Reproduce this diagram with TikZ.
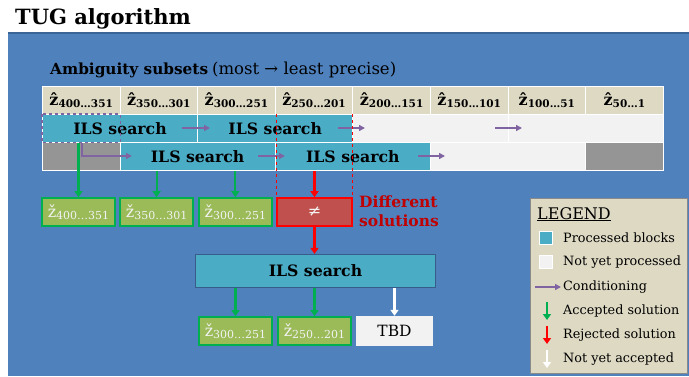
\documentclass[tikz,border=0pt]{standalone}
\usepackage{fontspec}
\setmainfont{DejaVu Serif}
\usetikzlibrary{arrows.meta}

\definecolor{panelblue}{HTML}{4F81BD}
\definecolor{paneledge}{HTML}{3B6497}
\definecolor{beige}{HTML}{DDD9C3}
\definecolor{offwhite}{HTML}{F2F2F2}
\definecolor{teal}{HTML}{4BACC6}
\definecolor{greycell}{HTML}{959595}
\definecolor{condpurple}{HTML}{8064A2}
\definecolor{accgreen}{HTML}{00B050}
\definecolor{solgreen}{HTML}{9BBB59}
\definecolor{rejred}{HTML}{FF0000}
\definecolor{boxred}{HTML}{C0504D}
\definecolor{textred}{HTML}{C00000}
\definecolor{ilsedge}{HTML}{385D8A}
\definecolor{legedge}{HTML}{8A8A8A}

\newcommand\zhat[2]{{\fontsize{16}{16}\selectfont\bfseries\^{z}}\raisebox{-0.3ex}{\fontsize{10.5}{10}\selectfont\bfseries #1…#2}}
\newcommand\zcheck[2]{{\fontsize{16}{16}\selectfont ž}\raisebox{-0.4ex}{\fontsize{11}{11}\selectfont #1…#2}}

\tikzset{
  cell/.style={draw=white, line width=0.8pt, minimum height=28pt, inner sep=0pt, anchor=north west},
  hdr/.style={cell, fill=beige, minimum width=77.6pt},
  done/.style={cell, fill=teal, font=\fontsize{15.7}{16}\selectfont\bfseries},
  todo/.style={cell, fill=offwhite},
  skip/.style={cell, fill=greycell},
  sol/.style={draw=accgreen, fill=solgreen, line width=1.6pt, minimum width=73pt, minimum height=28pt, inner sep=0pt, text=offwhite},
  acc/.style={draw=accgreen, line width=2.2pt, -{Triangle[width=8pt,length=6pt]}},
  rej/.style={draw=rejred, line width=2.2pt, -{Triangle[width=8pt,length=6pt]}},
  wait/.style={draw=white, line width=2.2pt, -{Triangle[width=8pt,length=6pt]}},
  cond/.style={draw=condpurple, line width=1.4pt, -{Triangle[width=6pt,length=6pt]}},
  legtext/.style={anchor=west, inner sep=0pt, font=\fontsize{12.8}{14}\selectfont}
}

\begin{document}
\begin{tikzpicture}[x=1pt,y=-1pt]
\useasboundingbox (0,0) rectangle (689,376);
\fill[white] (0,0) rectangle (689,376);

% slide panel
\fill[panelblue] (8,33) rectangle (689,376);
\draw[paneledge, line width=1.5pt] (8,33) -- (689,33);

% title
\node[anchor=base west, inner sep=0pt, font=\fontsize{21}{24}\selectfont\bfseries] (title) at (15,24) {TUG algorithm};

\node[anchor=base west, inner sep=0pt, text=black] (subtitle) at (50,74)
  {{\fontsize{15.3}{17}\selectfont\bfseries Ambiguity subsets}\hspace{4pt}{\fontsize{16.5}{17}\selectfont(most → least precise)}};

% header row
\node[hdr] (h1) at (42,86)    {\zhat{400}{351}};
\node[hdr] (h2) at (119.6,86) {\zhat{350}{301}};
\node[hdr] (h3) at (197.2,86) {\zhat{300}{251}};
\node[hdr] (h4) at (274.8,86) {\zhat{250}{201}};
\node[hdr] (h5) at (352.4,86) {\zhat{200}{151}};
\node[hdr] (h6) at (430,86)   {\zhat{150}{101}};
\node[hdr] (h7) at (507.6,86) {\zhat{100}{51}};
\node[hdr] (h8) at (585.2,86) {\zhat{50}{1}};

% first pass
\node[done, minimum width=155.2pt] (r1a) at (42,114)    {ILS search};
\node[done, minimum width=155.2pt] (r1b) at (197.2,114) {ILS search};
\node[todo, minimum width=155.2pt] (r1c) at (352.4,114) {};
\node[todo, minimum width=155.2pt] (r1d) at (507.6,114) {};

% second pass, shifted by one block
\node[skip, minimum width=77.6pt]  (r2a) at (42,142)    {};
\node[done, minimum width=155.2pt] (r2b) at (119.6,142) {ILS search};
\node[done, minimum width=155.2pt] (r2c) at (274.8,142) {ILS search};
\node[todo, minimum width=155.2pt] (r2d) at (430,142)   {};
\node[skip, minimum width=77.6pt]  (r2e) at (585.2,142) {};

% conditioning arrows
\coordinate (c1s) at (182,128); \coordinate (c1e) at (210,128);
\coordinate (c2s) at (338,128); \coordinate (c2e) at (365,128);
\coordinate (c3s) at (495,128); \coordinate (c3e) at (522,128);
\coordinate (c4s) at (82,143);  \coordinate (c4e) at (132,156);
\coordinate (c5s) at (258,156); \coordinate (c5e) at (285,156);
\coordinate (c6s) at (418,156); \coordinate (c6e) at (445,156);
\draw[cond] (c1s) -- (c1e);
\draw[cond] (c2s) -- (c2e);
\draw[cond] (c3s) -- (c3e);
\draw[cond] (c4s) |- (c4e);
\draw[cond] (c5s) -- (c5e);
\draw[cond] (c6s) -- (c6e);

% first-pass block kept for the result
\draw[condpurple, dashed, line width=1.2pt] (r1a.north west) rectangle (h1.east |- r1a.south);

% solutions of the first two passes
\node[sol] (b1) at (78.5,212)  {\zcheck{400}{351}};
\node[sol] (b2) at (156.6,212) {\zcheck{350}{301}};
\node[sol] (b3) at (235.3,212) {\zcheck{300}{251}};
\node[draw=rejred, fill=boxred, line width=1.6pt, minimum width=75pt, minimum height=28pt, inner sep=0pt, text=offwhite, font=\fontsize{16}{16}\selectfont] (neq) at (314.5,212) {≠};
\node[anchor=base west, align=left, inner sep=0pt, text=textred, font=\fontsize{15.5}{18.5}\selectfont\bfseries] (diff) at (359,226) {Different\\solutions};

% comparison window
\draw[rejred, dashed, line width=1.3pt] (neq.north west |- r1b.north) -- (neq.north west);
\draw[rejred, dashed, line width=1.3pt] (neq.north east |- r1b.north) -- (neq.north east);

\draw[acc] (r1a.south -| b1.north) -- (b1.north);
\draw[acc] (r2b.south -| b2.north) -- (b2.north);
\draw[acc] (r2b.south -| b3.north) -- (b3.north);
\draw[rej] (r2c.south -| neq.north) -- (neq.north);

% re-run
\node[draw=ilsedge, fill=teal, line width=1.2pt, minimum width=240pt, minimum height=33pt, inner sep=0pt, font=\fontsize{15.7}{16}\selectfont\bfseries] (ils) at (315.5,271) {ILS search};
\draw[rej] (neq.south) -- (neq.south |- ils.north);

\node[sol] (s1) at (235.5,331) {\zcheck{300}{251}};
\node[sol] (s2) at (314.5,331) {\zcheck{250}{201}};
\node[fill=offwhite, minimum width=77pt, minimum height=30pt, inner sep=0pt, font=\fontsize{15.5}{16}\selectfont] (tbd) at (394.5,331) {TBD};
\draw[acc] (ils.south -| s1.north) -- (s1.north);
\draw[acc] (ils.south -| s2.north) -- (s2.north);
\draw[wait] (ils.south -| tbd.north) -- (tbd.north);

% legend
\node[draw=legedge, fill=beige, line width=1pt, anchor=north west, minimum width=157pt, minimum height=175pt, inner sep=0pt] (legend) at (530,198) {};
\node[anchor=base west, inner sep=0pt, font=\fontsize{16}{17}\selectfont] (legtitle) at (537,219) {\underline{LEGEND}};
\node[draw=white, fill=teal, line width=1pt, minimum size=13pt, inner sep=0pt] (kdone) at (546,238) {};
\node[draw=white, fill=offwhite, line width=1pt, minimum size=13pt, inner sep=0pt] (ktodo) at (546,262) {};
\coordinate (kcs) at (535,287); \coordinate (kce) at (561,287);
\coordinate (kas) at (547,302); \coordinate (kae) at (547,320);
\coordinate (krs) at (547,326); \coordinate (kre) at (547,344);
\coordinate (kws) at (547,350); \coordinate (kwe) at (547,368);
\draw[cond] (kcs) -- (kce);
\draw[acc, line width=2pt] (kas) -- (kae);
\draw[rej, line width=2pt] (krs) -- (kre);
\draw[wait, line width=2pt] (kws) -- (kwe);
\node[legtext] (l1) at (563,238) {Processed blocks};
\node[legtext] (l2) at (563,262) {Not yet processed};
\node[legtext] (l3) at (563,287) {Conditioning};
\node[legtext] (l4) at (563,311) {Accepted solution};
\node[legtext] (l5) at (563,335) {Rejected solution};
\node[legtext] (l6) at (563,359) {Not yet accepted};
\end{tikzpicture}
\end{document}
